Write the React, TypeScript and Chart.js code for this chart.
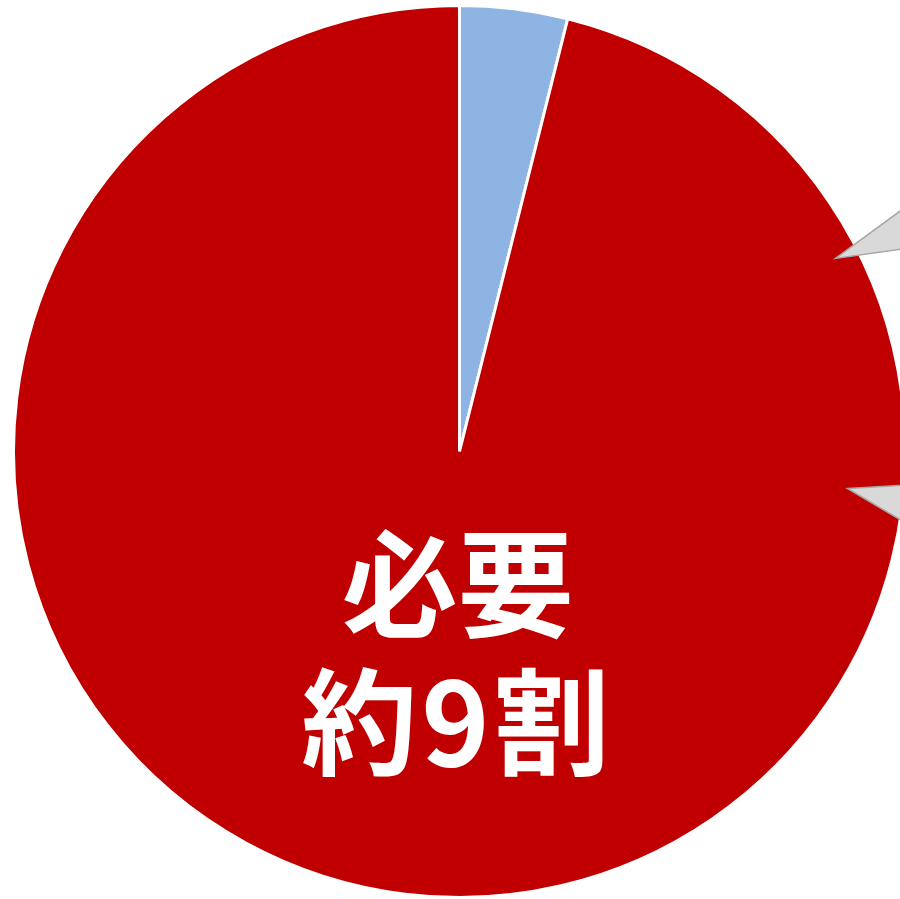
import React, { useEffect, useRef } from "react";
import { Chart, registerables } from "chart.js";

Chart.register(...registerables);

const categories = ["不要", "必要"];
const values = [3.9, 96.1];
const colors = ["#8EB4E3", "#C00000"];
const labelLines = ["必要", "約9割"];

export default function App() {
  const ref = useRef<HTMLCanvasElement | null>(null);
  useEffect(() => {
    document.body.style.margin = "0";
    const ctx = ref.current!.getContext("2d")!;
    const overlay = {
      id: "overlay",
      afterDraw(chart: any) {
        const arc = chart.getDatasetMeta(0).data[0];
        const cx = arc.x, cy = arc.y, R = arc.outerRadius;
        const c = chart.ctx;
        const tri = (tip: number[], a: number[], b: number[]) => {
          const ext = (p: number[]) => [tip[0] + 1.6 * (p[0] - tip[0]), tip[1] + 1.6 * (p[1] - tip[1])];
          const pts = [tip, ext(a), ext(b)];
          c.save();
          c.beginPath();
          pts.forEach((p, i) => {
            const x = cx + p[0] * R, y = cy + p[1] * R;
            if (i === 0) c.moveTo(x, y); else c.lineTo(x, y);
          });
          c.closePath();
          c.fillStyle = "#D9D9D9";
          c.fill();
          c.strokeStyle = "#A6A6A6";
          c.lineWidth = 1.5;
          c.stroke();
          c.restore();
        };
        tri([0.843, -0.433], [0.9865, -0.538], [0.9865, -0.453]);
        tri([0.87, 0.083], [0.9865, 0.076], [0.9865, 0.152]);
        c.save();
        c.fillStyle = "#FFFFFF";
        c.textAlign = "center";
        c.textBaseline = "middle";
        c.font = "bold 116px 'Noto Sans CJK JP'";
        c.fillText(labelLines[0], cx - 0.004 * R, cy + 0.298 * R);
        (c as any).letterSpacing = "4px";
        c.fillText(labelLines[1], cx - 0.009 * R + 2, cy + 0.607 * R);
        c.restore();
      },
    };
    const chart = new Chart(ctx, {
      type: "pie",
      data: {
        labels: categories,
        datasets: [
          {
            data: values,
            backgroundColor: colors,
            borderColor: "#FFFFFF",
            borderWidth: 3,
          },
        ],
      },
      options: {
        responsive: false,
        animation: false,
        layout: { padding: { left: 12, right: 13, top: 4, bottom: 0 } },
        plugins: { legend: { display: false }, tooltip: { enabled: false } },
      },
      plugins: [overlay],
    });
    return () => chart.destroy();
  }, []);
  return (
    <div style={{ position: "absolute", left: 0, top: 0, width: 900, height: 899, overflow: "hidden", background: "#fff" }}>
      <canvas ref={ref} width={920} height={899} style={{ display: "block" }} />
    </div>
  );
}
